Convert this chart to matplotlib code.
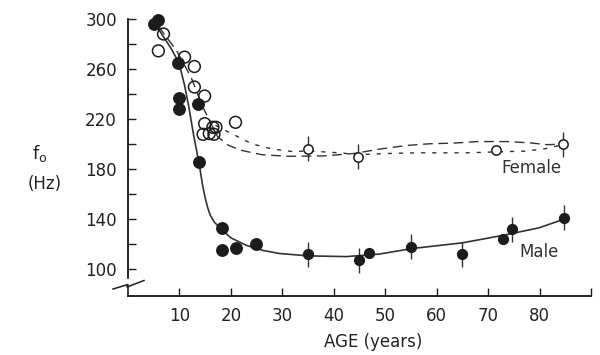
import numpy as np
import matplotlib
matplotlib.use('Agg')
import matplotlib.pyplot as plt
from matplotlib.lines import Line2D

# male (filled) points
male_age = [5.0, 5.8, 9.8, 9.9, 9.9, 13.7, 13.8, 18.2, 18.2, 20.9, 24.9,
            35.0, 44.9, 46.9, 55.0, 64.9, 72.9, 74.7, 84.8]
male_f0 = [296, 299, 265, 237, 228, 232, 186, 133, 115, 116.5, 120,
           112, 107, 113, 118, 112, 124, 132, 141]
male_err = [0, 0, 0, 0, 0, 0, 0, 0, 0, 0, 0,
            10, 10, 0, 10, 10, 0, 10, 10]

# female (open) points
fem_age = [5.9, 6.9, 11.0, 12.9, 12.9, 14.9, 14.9, 14.6, 15.8, 16.5, 17.1, 16.7, 20.9,
           34.9, 44.8, 71.5, 84.5]
fem_f0 = [274.5, 288, 269.5, 262, 245.6, 238.4, 216.3, 207.8, 208.4, 213.4, 213.4, 207.8, 217.4,
          196.4, 189.8, 195.5, 200]
fem_err = [0, 0, 0, 0, 0, 0, 0, 0, 0, 0, 0, 0, 0,
           10, 10, 0, 10]

# fitted curves
male_fit_age = [5.5, 6.7, 8.3, 9.9, 11.0, 11.9, 12.8, 13.8, 14.5, 15.0, 15.5, 16.0, 16.8,
                18.1, 20.0, 23.0, 26.2, 29.4, 35, 42.4, 48.8, 55.3, 65, 72.9, 79.9, 84.8]
male_fit_f0 = [295, 287, 277, 265, 247, 228, 206, 185, 167, 157, 149, 143, 137.5,
               132, 125, 119, 115, 112.5, 110.6, 110, 112, 116.5, 121, 127, 133, 140]

fem_fit1_age = [6, 7, 9.4, 12.3, 14.5, 17.4, 19.5, 22, 26, 31, 38, 44, 49, 54, 58.5,
                63.5, 68, 73.5, 78, 81.5, 84.5]
fem_fit1_f0 = [294, 288, 275, 253, 230, 206, 199, 195, 191.5, 190.2, 190.5, 192.5, 196,
               198.8, 200.2, 200.8, 202, 202, 201, 199.5, 200]

fem_fit2_age = [17, 20.3, 24.2, 28.1, 32, 35, 41, 45, 50, 56, 62, 66, 72, 77, 81, 84.5]
fem_fit2_f0 = [215, 208, 200, 196, 194, 194.5, 193, 191.5, 192.4, 193, 193, 193, 193.8,
               194.3, 196.2, 199.5]

ink = '#1c1c1c'
W, H = 600, 355

fig = plt.figure(figsize=(6, 3.55), dpi=100)
ax = fig.add_axes([128 / W, 1 - 296 / H, (591 - 128) / W, (296 - 19) / H])

ax.plot(male_fit_age, male_fit_f0, color='#333333', lw=1.2, zorder=2)
ax.plot(fem_fit1_age, fem_fit1_f0, color='#333333', lw=1.0, ls=(0, (7, 4)), zorder=2)
ax.plot(fem_fit2_age, fem_fit2_f0, color='#333333', lw=1.0, ls=(0, (3, 5)), zorder=2)

ma = np.array(male_age)
mf = np.array(male_f0)
me = np.array(male_err)
fa = np.array(fem_age)
ff = np.array(fem_f0)
fe = np.array(fem_err)

sel = me > 0
ax.errorbar(ma[sel], mf[sel], yerr=me[sel], fmt='none', ecolor='#333333', elinewidth=1, zorder=3)
sel = fe > 0
ax.errorbar(fa[sel], ff[sel], yerr=fe[sel], fmt='none', ecolor='#333333', elinewidth=1, zorder=3)

old = ma < 30
ax.scatter(ma[~old], mf[~old], s=50, color=ink, zorder=4, clip_on=False)
ax.scatter(ma[old], mf[old], s=68, color=ink, zorder=4, clip_on=False)
old = fa < 30
ax.scatter(fa[old], ff[old], s=72, facecolors='none', edgecolors=ink, linewidths=1.1,
           zorder=4, clip_on=False)
ax.scatter(fa[~old], ff[~old], s=45, facecolors='white', edgecolors=ink, linewidths=1.1,
           zorder=5, clip_on=False)

ax.set_xlim(0, 90)
ax.set_ylim(78.5, 300)
for s in ['top', 'right']:
    ax.spines[s].set_visible(False)
ax.spines['left'].set_bounds(93, 300)
ax.spines['left'].set_linewidth(1.2)
ax.spines['bottom'].set_linewidth(1.2)

ax.set_xticks(range(10, 91, 10))
ax.set_xticklabels([str(v) for v in range(10, 81, 10)] + [''])
ax.set_yticks(range(100, 301, 40))
ax.set_yticks(range(120, 281, 40), minor=True)
ax.tick_params(axis='both', which='both', direction='in', length=6, width=1, color=ink)
ax.tick_params(axis='x', pad=8, labelsize=12, labelcolor='#222222')
ax.tick_params(axis='y', pad=8, labelsize=12, labelcolor='#222222')

ax.text(78.5, 181, 'Female', fontsize=12, color='#333333', ha='center', va='center')
ax.text(80, 114, 'Male', fontsize=12, color='#333333', ha='center', va='center')

# axis break
zig_x = [113, 128, 127, 144]
zig_y = [289, 284.5, 287, 280.5]
fig.add_artist(Line2D([x / W for x in zig_x], [1 - y / H for y in zig_y],
                      transform=fig.transFigure, color=ink, lw=1.1))
fig.add_artist(Line2D([128 / W, 128 / W], [1 - 287 / H, 1 - 296 / H],
                      transform=fig.transFigure, color=ink, lw=1.2))

fig.text(40 / W, 1 - 153 / H, r'$\mathregular{f_o}$', fontsize=13, color='#222222',
         ha='center', va='center')
fig.text(45 / W, 1 - 184 / H, '(Hz)', fontsize=12, color='#222222', ha='center', va='center')
fig.text(373 / W, 1 - 342 / H, 'AGE (years)', fontsize=12, color='#222222',
         ha='center', va='center')

fig.savefig('out.png', dpi=100)
